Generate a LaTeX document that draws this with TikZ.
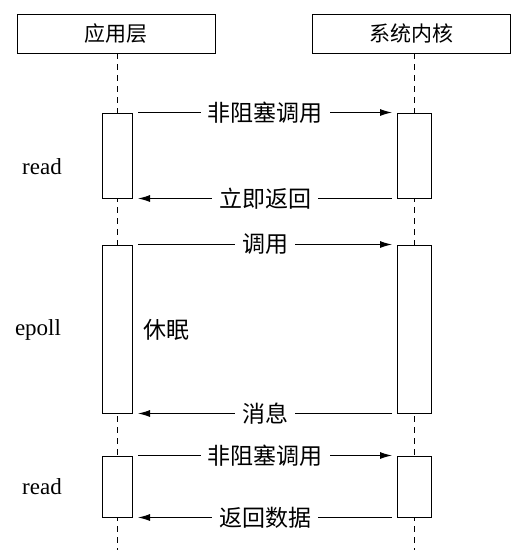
\documentclass[tikz,border=0pt]{standalone}
\usepackage{fontspec}
\setmainfont{Liberation Serif}
\newfontfamily\cjk{Noto Sans CJK SC}
\usetikzlibrary{arrows.meta}
\begin{document}
\begin{tikzpicture}[x=1pt,y=-1pt,
  every node/.style={inner sep=0pt},
  header/.style={draw,line width=1pt,minimum width=198pt,minimum height=39pt,font=\cjk\fontsize{21}{23}\selectfont},
  actbox/.style={draw,line width=1pt,fill=white},
  lifeline/.style={line width=1pt,dash pattern=on 6pt off 5pt},
  msg/.style={line width=1pt,-{Latex[length=12pt,width=7pt]},shorten >=5pt,shorten <=5pt},
  lbl/.style={fill=white,inner xsep=7pt,inner ysep=2pt,font=\cjk\fontsize{23}{25}\selectfont},
  side/.style={font=\fontsize{23}{25}\selectfont}]
\useasboundingbox (0,0) rectangle (529,558);
% headers
\node[header] (app) at (116,33.5) {应用层};
\node[header] (ker) at (411,33.5) {系统内核};
% lifelines
\coordinate (append) at (117.5,550);
\coordinate (kerend) at (414.5,550);
\draw[lifeline] (117.5,53) -- (append);
\draw[lifeline] (414.5,53) -- (kerend);
% activation boxes
\node[actbox,minimum width=30pt,minimum height=85pt] (L1) at (117.5,155.5) {};
\node[actbox,minimum width=34pt,minimum height=85pt] (R1) at (414.5,155.5) {};
\node[actbox,minimum width=30pt,minimum height=168pt] (L2) at (117.5,329) {};
\node[actbox,minimum width=34pt,minimum height=168pt] (R2) at (414.5,329) {};
\node[actbox,minimum width=30pt,minimum height=61pt] (L3) at (117.5,486.5) {};
\node[actbox,minimum width=34pt,minimum height=61pt] (R3) at (414.5,486.5) {};
% messages
\draw[msg] (L1.north east) -- node[lbl] (m1) {非阻塞调用} (R1.north west);
\draw[msg] (R1.south west) -- node[lbl] (m2) {立即返回} (L1.south east);
\draw[msg] (L2.north east) -- node[lbl] (m3) {调用} (R2.north west);
\draw[msg] (R2.south west) -- node[lbl] (m4) {消息} (L2.south east);
\draw[msg] (L3.north east) -- node[lbl] (m5) {非阻塞调用} (R3.north west);
\draw[msg] (R3.south west) -- node[lbl] (m6) {返回数据} (L3.south east);
% side labels
\node[side] (r1) at (42,167) {read};
\node[side] (ep) at (38,330) {epoll};
\node[font=\cjk\fontsize{23}{25}\selectfont] (sl) at (166,330) {休眠};
\node[side] (r2) at (42,487) {read};
\end{tikzpicture}
\end{document}
